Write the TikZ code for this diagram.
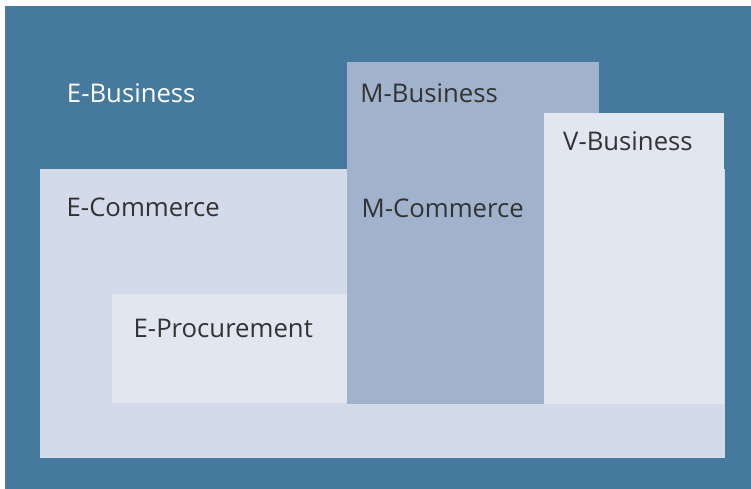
\documentclass[tikz,border=0pt]{standalone}
\usepackage{fontspec}
\setmainfont{Open Sans}
\definecolor{darkblue}{RGB}{69,121,158}
\definecolor{ecom}{RGB}{211,218,233}
\definecolor{lightbox}{RGB}{226,230,241}
\definecolor{mbox}{RGB}{160,178,204}
\definecolor{txt}{RGB}{51,51,51}
\begin{document}
\begin{tikzpicture}[x=1bp,y=-1bp,
  lbl/.style={anchor=base west,inner sep=0pt,font=\fontsize{25.8}{30}\selectfont,text=txt}]
\useasboundingbox (0,0) rectangle (751,489);
\fill[darkblue] (5,6) rectangle (751,489);
\fill[ecom] (40,169) rectangle (725,458);
\fill[lightbox] (112,294) rectangle (347,403);
\fill[mbox] (347,62) rectangle (599,404);
\fill[lightbox] (544,113) rectangle (724,404);
\node[lbl,text=white] (ebus) at (66.8,103) {E-Business};
\node[lbl] (mbus) at (360.2,103) {M-Business};
\node[lbl] (vbus) at (563,150.3) {V-Business};
\node[lbl] (ecomm) at (66.5,217) {E-Commerce};
\node[lbl] (mcomm) at (361.5,217.5) {M-Commerce};
\node[lbl] (eproc) at (133.5,337) {E-Procurement};
\end{tikzpicture}
\end{document}
